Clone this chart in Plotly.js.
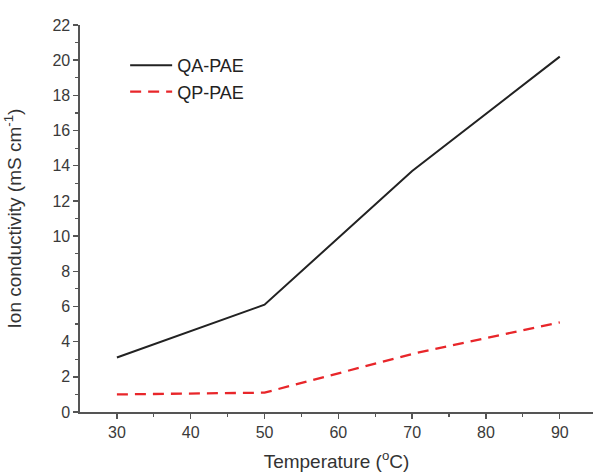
<!DOCTYPE html>
<html>
<head>
<meta charset="utf-8">
<script src="https://cdn.plot.ly/plotly-3.0.1.min.js"></script>
<style>html,body{margin:0;padding:0;background:#fff;}#chart{width:593px;height:475px;}</style>
</head>
<body>
<div id="chart"></div>
<script>
// Ion conductivity vs temperature for two membranes
const temperature = [30, 50, 70, 90];
const qaPae = [3.1, 6.1, 13.7, 20.2];
const qpPae = [1.0, 1.1, 3.3, 5.1];

const traces = [
  {x: temperature, y: qaPae, name: 'QA-PAE', mode: 'lines', type: 'scatter',
   line: {color: '#222', width: 2}},
  {x: temperature, y: qpPae, name: 'QP-PAE', mode: 'lines', type: 'scatter',
   line: {color: '#e8262a', width: 2.3, dash: '11px,7px'}}
];

const fontFamily = 'Liberation Sans, Arial, sans-serif';

const axisCommon = {
  showline: true, linecolor: '#555', linewidth: 1.6,
  ticks: 'outside', ticklen: 5, tickwidth: 1.4, tickcolor: '#555',
  showgrid: false, zeroline: false, mirror: false,
  tickfont: {family: fontFamily, size: 16, color: '#3a3a3a'},
  minor: {ticks: 'outside', ticklen: 3, tickwidth: 1.2, tickcolor: '#555'}
};

const layout = {
  width: 593, height: 475,
  margin: {l: 80, r: 0, t: 25, b: 63},
  paper_bgcolor: '#fff', plot_bgcolor: '#fff',
  font: {family: fontFamily, color: '#333'},
  showlegend: true,
  legend: {x: 0.088, y: 0.943, xanchor: 'left', yanchor: 'top',
    bgcolor: 'rgba(0,0,0,0)', font: {size: 18, color: '#222'},
    itemwidth: 42, tracegroupgap: 0},
  xaxis: Object.assign({}, axisCommon, {
    range: [25, 94.5], tickvals: [30, 40, 50, 60, 70, 80, 90],
    minor: Object.assign({}, axisCommon.minor, {tickvals: [35, 45, 55, 65, 75, 85]}),
    title: {text: 'Temperature (<sup>o</sup>C)', font: {size: 19, color: '#333'}, standoff: 15}
  }),
  yaxis: Object.assign({}, axisCommon, {
    range: [0, 22], tick0: 0, dtick: 2,
    minor: Object.assign({}, axisCommon.minor, {dtick: 1}),
    title: {text: 'Ion conductivity (mS cm<sup>-1</sup>)', font: {size: 19, color: '#333'}, standoff: 26}
  })
};

Plotly.newPlot('chart', traces, layout, {displayModeBar: false, staticPlot: true});
</script>
</body>
</html>
